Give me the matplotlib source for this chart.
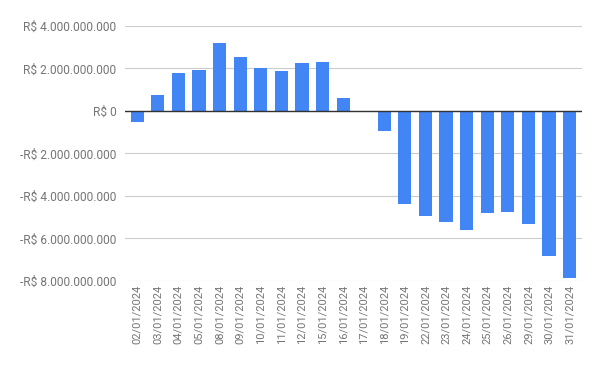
import matplotlib.pyplot as plt
from matplotlib.ticker import FuncFormatter

# daily values (R$)
dates = ['02/01/2024', '03/01/2024', '04/01/2024', '05/01/2024', '08/01/2024',
         '09/01/2024', '10/01/2024', '11/01/2024', '12/01/2024', '15/01/2024',
         '16/01/2024', '17/01/2024', '18/01/2024', '19/01/2024', '22/01/2024',
         '23/01/2024', '24/01/2024', '25/01/2024', '26/01/2024', '29/01/2024',
         '30/01/2024', '31/01/2024']
values = [-0.54e9, 0.76e9, 1.77e9, 1.91e9, 3.22e9,
          2.56e9, 2.00e9, 1.90e9, 2.24e9, 2.32e9,
          0.63e9, -0.06e9, -0.96e9, -4.39e9, -4.96e9,
          -5.24e9, -5.62e9, -4.82e9, -4.77e9, -5.33e9,
          -6.84e9, -7.87e9]
yticks = [-8e9, -6e9, -4e9, -2e9, 0, 2e9, 4e9]

plt.rcParams['font.family'] = ['Roboto', 'DejaVu Sans']

fig = plt.figure(figsize=(6, 3.71), dpi=100)
ax = fig.add_axes([0.208, 0.243, 0.762, 0.687])

x = range(len(dates))
ax.bar(x, values, width=0.64, color='#4285f4', zorder=3)


def brl(v, pos):
    s = '{:,.0f}'.format(abs(v)).replace(',', '.')
    return ('-R$ ' if v < 0 else 'R$ ') + s


ax.set_ylim(-8e9, 4e9)
ax.set_yticks(yticks)
ax.yaxis.set_major_formatter(FuncFormatter(brl))
ax.set_xlim(-0.6, len(dates) - 0.4)
ax.set_xticks(list(x))
ax.set_xticklabels(dates, rotation=90)

ax.grid(axis='y', color='#cccccc', linewidth=0.8, zorder=0)
ax.axhline(0, color='#333333', linewidth=1, zorder=4)
for s in ax.spines.values():
    s.set_visible(False)
ax.tick_params(length=0, colors='#757575')
ax.tick_params(axis='y', labelsize=8.6, pad=6)
ax.tick_params(axis='x', labelsize=8, pad=3)

plt.savefig('out.png')
